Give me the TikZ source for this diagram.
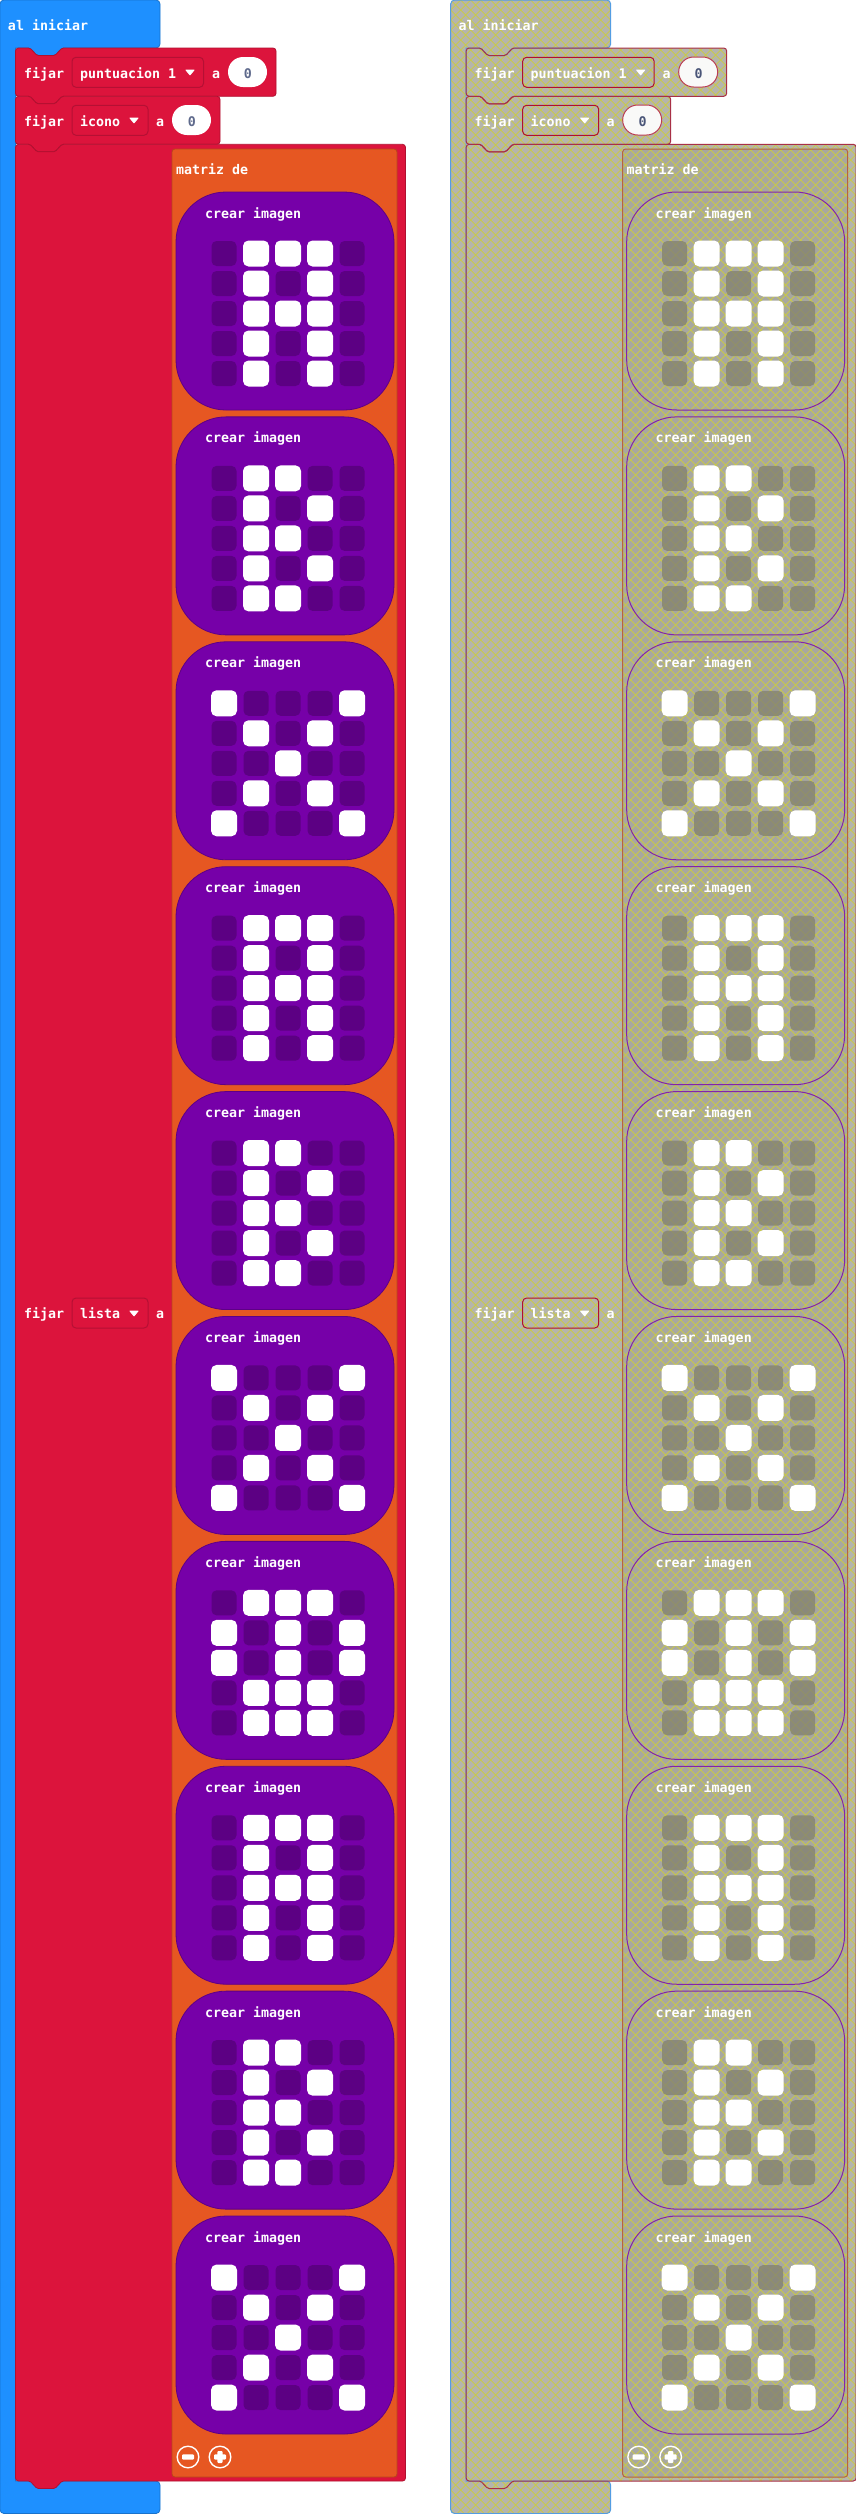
\documentclass[tikz,border=0pt]{standalone}
\usepackage{fontspec}
\newfontfamily\blockfont{DejaVu Sans Mono}[BoldFont={DejaVu Sans Mono Bold}]
\definecolor{hatblue}{HTML}{1E90FF}
\definecolor{hatblueD}{HTML}{1873CC}
\definecolor{setred}{HTML}{DC143C}
\definecolor{setredD}{HTML}{B01030}
\definecolor{fieldD}{HTML}{B51034}
\definecolor{arrorange}{HTML}{E65722}
\definecolor{arrorangeD}{HTML}{B8461B}
\definecolor{imgpurple}{HTML}{7600A8}
\definecolor{imgpurpleD}{HTML}{5E0086}
\definecolor{cellpurple}{HTML}{5C0083}
\definecolor{dimbase}{HTML}{B5B5AC}
\definecolor{dimbaseB}{HTML}{A8A89F}
\definecolor{dimline}{HTML}{CCCC40}
\definecolor{dimcell}{HTML}{807F70}
\definecolor{dimzero}{HTML}{4A5578}
\definecolor{zerogrey}{HTML}{5F6A8C}
\tikzset{
  x=1pt,y=-1pt,
  lbl/.style={inner sep=0pt,outer sep=0pt,anchor=base west,text=white,font=\blockfont\bfseries\fontsize{13.3}{15}\selectfont},
  zeroL/.style={inner sep=0pt,outer sep=0pt,anchor=base,font=\blockfont\bfseries\fontsize{13.3}{15}\selectfont},
  tri/.style={fill=white,draw=white,line width=1pt,line join=round},
  btn/.style={draw=white,line width=1.4pt,fill=none},
  btnbar/.style={fill=white,rounded corners=1pt},
  cellOn/.style={fill=white,rounded corners=5.5pt},
}
% ---------- shapes of one program ----------
\newcommand\blk[6]{% style, x1, y0, y1
  \path[#1] (15.5,#3+10) [rounded corners=3pt] -- (15.5,#3) [rounded corners=1.5pt] -- (30,#3) -- (37,#3+7.5) -- (55,#3+7.5) -- (62,#3) [rounded corners=3pt] -- (#2,#3) -- (#2,#4) [rounded corners=1.5pt] -- (62,#4) -- (55,#4+7.5) -- (37,#4+7.5) -- (30,#4) [rounded corners=3pt] -- (15.5,#4) [sharp corners] -- cycle;}
\newcommand\allshapes{%
  \path[hatS] (0,20) [rounded corners=4pt] -- (0,0) -- (160,0) -- (160,48) [rounded corners=1.5pt] -- (62,48) -- (55,55.5) -- (37,55.5) -- (30,48) [sharp corners] -- (15.5,48) -- (15.5,2481) -- (100,2481) [rounded corners=4pt] -- (160,2481) -- (160,2513.5) -- (0,2513.5) [sharp corners] -- cycle;
  \blk{redS}{276}{48}{96.3}{}{}
  \blk{redS}{220}{96.3}{144.3}{}{}
  \blk{redS}{405.5}{144.3}{2481}{}{}
  \path[orgS,rounded corners=3pt] (172,149) rectangle (397,2477);
  \foreach \i in {0,...,9}{
    \pgfmathsetmacro\yy{192+224.89*\i}
    \path[purS,rounded corners=50pt] (176,\yy) rectangle (394,\yy+218);
  }
}
\newcommand\fields{%
  \path[fieldS,rounded corners=4pt] (72,57.3) rectangle (203.5,87.3);
  \path[fieldS,rounded corners=4pt] (72,105.3) rectangle (148,135.3);
  \path[fieldS,rounded corners=4pt] (72,1298) rectangle (148,1328);
  \path[ovalS] (228,57) [rounded corners=15pt] rectangle (267,87);
  \path[ovalS] (172,105) [rounded corners=15pt] rectangle (211,135);
  \draw[tri] (186,70) -- (194,70) -- (190,74.8) -- cycle;
  \draw[tri] (130,118) -- (138,118) -- (134,122.8) -- cycle;
  \draw[tri] (130,1311) -- (138,1311) -- (134,1315.8) -- cycle;
}
\newcommand\onegrid[2]{%
  \pgfmathsetmacro\yt{192+224.89*#1}
  \foreach \v [count=\k from 0] in {#2}{
    \pgfmathtruncatemacro\cc{mod(\k,5)}
    \pgfmathtruncatemacro\rr{int(\k/5)}
    \pgfmathsetmacro\cx{224+32*\cc}
    \pgfmathsetmacro\cy{\yt+61.5+30*\rr}
    \ifnum\v=1
      \path[cellOn] (\cx-13,\cy-13) rectangle (\cx+13,\cy+13);
    \else
      \path[cellS,rounded corners=5pt] (\cx-12.5,\cy-12.5) rectangle (\cx+12.5,\cy+12.5);
    \fi
  }
}
\def\bmA{0,1,1,1,0,0,1,0,1,0,0,1,1,1,0,0,1,0,1,0,0,1,0,1,0}
\def\bmB{0,1,1,0,0,0,1,0,1,0,0,1,1,0,0,0,1,0,1,0,0,1,1,0,0}
\def\bmX{1,0,0,0,1,0,1,0,1,0,0,0,1,0,0,0,1,0,1,0,1,0,0,0,1}
\def\bmS{0,1,1,1,0,1,0,1,0,1,1,0,1,0,1,0,1,1,1,0,0,1,1,1,0}
\newcommand\allgrids{%
  \expandafter\onegrid\expandafter{\expandafter0\expandafter}\expandafter{\bmA}
  \expandafter\onegrid\expandafter{\expandafter1\expandafter}\expandafter{\bmB}
  \expandafter\onegrid\expandafter{\expandafter2\expandafter}\expandafter{\bmX}
  \expandafter\onegrid\expandafter{\expandafter3\expandafter}\expandafter{\bmA}
  \expandafter\onegrid\expandafter{\expandafter4\expandafter}\expandafter{\bmB}
  \expandafter\onegrid\expandafter{\expandafter5\expandafter}\expandafter{\bmX}
  \expandafter\onegrid\expandafter{\expandafter6\expandafter}\expandafter{\bmS}
  \expandafter\onegrid\expandafter{\expandafter7\expandafter}\expandafter{\bmA}
  \expandafter\onegrid\expandafter{\expandafter8\expandafter}\expandafter{\bmB}
  \expandafter\onegrid\expandafter{\expandafter9\expandafter}\expandafter{\bmX}
}
\newcommand\labels[1]{%
  \node[lbl] (#1hat) at (8,30) {al iniciar};
  \node[lbl] (#1f1) at (24,78) {fijar};
  \node[lbl] (#1v1) at (80,78) {puntuacion 1};
  \node[lbl] (#1a1) at (212,78) {a};
  \node[zeroL,text=zeroC] (#1z1) at (248,78) {0};
  \node[lbl] (#1f2) at (24,126.3) {fijar};
  \node[lbl] (#1v2) at (80,126.3) {icono};
  \node[lbl] (#1a2) at (156,126.3) {a};
  \node[zeroL,text=zeroC] (#1z2) at (192,126.3) {0};
  \node[lbl] (#1f3) at (24,1318) {fijar};
  \node[lbl] (#1v3) at (80,1318) {lista};
  \node[lbl] (#1a3) at (156,1318) {a};
  \node[lbl] (#1m) at (176,174) {matriz de};
  \foreach \i in {0,...,9}{
    \pgfmathsetmacro\yy{218+224.89*\i}
    \node[lbl] (#1c\i) at (205,\yy) {crear imagen};
  }
  \path[btn] (188,2457) circle (10.8);
  \path[btnbar] (182,2454.3) rectangle (194,2459.7);
  \path[btn] (220,2457) circle (10.8);
  \path[btnbar] (214,2454.3) rectangle (226,2459.7);
  \path[btnbar] (217.3,2451) rectangle (222.7,2463);
}
\begin{document}
\begin{tikzpicture}
\useasboundingbox (0,0) rectangle (856,2514);
\fill[white] (0,0) rectangle (856,2514);
% ===== enabled program =====
\begin{scope}
  \tikzset{
    hatS/.style={fill=hatblue,draw=hatblueD,line width=.8pt},
    redS/.style={fill=setred,draw=setredD,line width=.8pt},
    orgS/.style={fill=arrorange,draw=arrorangeD,line width=.8pt},
    purS/.style={fill=imgpurple,draw=imgpurpleD,line width=.8pt},
    fieldS/.style={fill=setred,draw=fieldD,line width=1pt},
    ovalS/.style={fill=white},
    cellS/.style={fill=cellpurple},
  }
  \colorlet{zeroC}{zerogrey}
  \allshapes
  \fields
  \allgrids
  \labels{L}
\end{scope}
% ===== disabled program =====
\begin{scope}[xshift=450.67pt]
  \tikzset{
    hatS/.style={fill=dimbase},
    redS/.style={fill=dimbase},
    orgS/.style={fill=dimbaseB},
    purS/.style={fill=dimbaseB},
  }
  \allshapes
  \begin{scope}
    \clip[rounded corners=4pt]
      (0,0) rectangle (160,48)
      (0,0) rectangle (15.5,2513.5)
      (0,2481) rectangle (160,2513.5)
      (15.5,48) rectangle (276,96.3)
      (15.5,96.3) rectangle (220,144.3)
      (15.5,144.3) rectangle (405.5,2481);
    \draw[dimline,line width=.7pt]
      \foreach \u in {0,10,...,2920}{ (\u,0) -- (\u-2520,2520) (\u-2520,0) -- (\u,2520) };
  \end{scope}
  \tikzset{
    hatS/.style={draw=hatblue!65!dimbase,line width=1pt},
    redS/.style={draw=setred!75!dimbase!80!black,line width=1pt},
    orgS/.style={draw=arrorange!70!dimbase!85!black,line width=1pt},
    purS/.style={draw=imgpurple!80!dimbase,line width=1pt},
    fieldS/.style={draw=setred!80!black,line width=1pt},
    ovalS/.style={fill=white!92!dimbase,draw=setred!70!dimbase!90!black,line width=1pt},
    cellS/.style={fill=dimcell,fill opacity=.75},
  }
  \colorlet{zeroC}{dimzero}
  \allshapes
  \fields
  \allgrids
  \labels{R}
\end{scope}
\end{tikzpicture}
\end{document}
